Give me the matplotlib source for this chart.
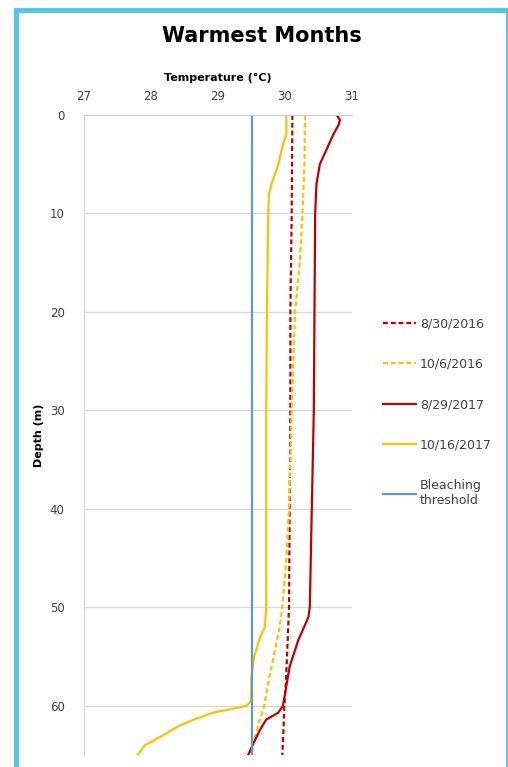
import matplotlib.pyplot as plt
from matplotlib.patches import Rectangle

# depth (m) and temperature (deg C)
d_2016a = [0, 10, 20, 30, 40, 50, 55, 58, 60, 62, 65]
t_2016a = [30.11, 30.10, 30.08, 30.08, 30.07, 30.06, 30.03, 30.01, 29.99, 29.98, 29.96]

d_2016b = [0, 5, 10, 15, 20, 30, 40, 45, 50, 52, 55, 58, 60, 62, 64, 65]
t_2016b = [30.30, 30.29, 30.26, 30.22, 30.15, 30.10, 30.06, 30.02, 29.96, 29.92, 29.83, 29.74, 29.69, 29.60, 29.52, 29.48]

d_2017a = [0, 0.5, 1, 2, 3.5, 5, 7, 10, 20, 30, 40, 50, 51, 53.3, 56, 58, 60, 60.7, 61.4, 62.4, 63.8, 65]
t_2017a = [30.77, 30.82, 30.80, 30.72, 30.62, 30.52, 30.47, 30.45, 30.44, 30.43, 30.40, 30.37, 30.35, 30.20, 30.07, 30.02, 29.97, 29.90, 29.72, 29.63, 29.53, 29.45]

d_2017b = [0, 2, 3, 5, 7, 8, 10, 20, 30, 40, 50, 52, 53, 55, 57, 59.5, 60, 60.3, 60.7, 61.3, 62, 63, 64, 65]
t_2017b = [30.02, 30.02, 29.97, 29.90, 29.80, 29.76, 29.75, 29.73, 29.72, 29.72, 29.72, 29.70, 29.63, 29.54, 29.50, 29.49, 29.43, 29.22, 28.93, 28.68, 28.43, 28.18, 27.91, 27.80]

bleach_t = [29.5, 29.5]
bleach_d = [0, 65]

xticks = [27, 28, 29, 30, 31]
yticks = [0, 10, 20, 30, 40, 50, 60]

fig = plt.figure(figsize=(5.08, 7.67), dpi=100)
W, H = 508, 767

# cyan frame (right edge partly cut off, bottom off the page)
fig.patches.append(Rectangle((15.5 / W, -0.1), 492 / W, (H - 9.5) / H + 0.1,
                             transform=fig.transFigure, fill=False,
                             edgecolor='#4EC8E0', lw=3.5))

ax = fig.add_axes([84 / W, 1 - 755 / H, (352 - 84) / W, (755 - 115) / H])

ax.plot(t_2016a, d_2016a, color='#C00000', ls=(0, (2.2, 1.3)), lw=1.6, label='8/30/2016')
ax.plot(t_2016b, d_2016b, color='#FFC000', ls=(0, (2.2, 1.3)), lw=1.6, label='10/6/2016')
ax.plot(t_2017a, d_2017a, color='#C00000', ls='-', lw=1.6, label='8/29/2017')
ax.plot(t_2017b, d_2017b, color='#FFC000', ls='-', lw=1.6, label='10/16/2017')
ax.plot(bleach_t, bleach_d, color='#5B9BD5', ls='-', lw=1.6, label='Bleaching\nthreshold')

ax.set_xlim(27, 31)
ax.set_ylim(65, 0)
ax.set_xticks(xticks)
ax.set_yticks(yticks)
ax.xaxis.tick_top()
ax.xaxis.set_label_position('top')
ax.tick_params(length=0, labelsize=8.5, labelcolor='#404040', pad=9)
ax.tick_params(axis='y', pad=14)
ax.grid(axis='y', color='#D9D9D9', lw=0.9)
ax.set_axisbelow(True)
for s in ['right', 'bottom']:
    ax.spines[s].set_visible(False)
ax.spines['left'].set_color('#D0D0D0')
ax.spines['top'].set_color('#D0D0D0')

ax.set_xlabel('Temperature (°C)', fontsize=8, fontweight='bold', labelpad=6)
ax.set_ylabel('Depth (m)', fontsize=8, fontweight='bold', labelpad=4)

fig.text(262 / W, 1 - 36 / H, 'Warmest Months', ha='center', va='center',
         fontsize=15, fontweight='bold')

fig.legend(loc='upper left', bbox_to_anchor=(372 / W, 1 - 306 / H), frameon=False,
           fontsize=9, labelspacing=2.2, handlelength=2.6, handletextpad=0.35,
           labelcolor='#404040')

fig.savefig('out.png', dpi=100)
